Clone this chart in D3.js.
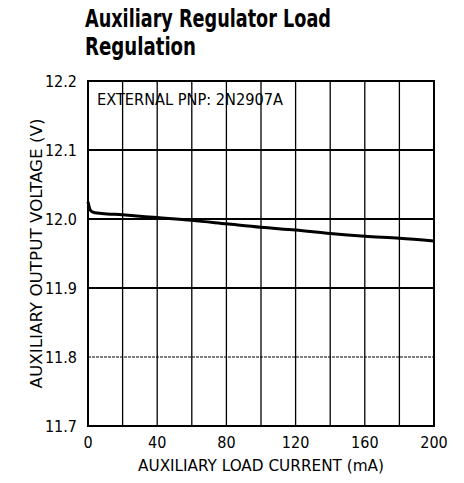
<!DOCTYPE html>
<html>
<head>
<meta charset="utf-8">
<script src="https://cdn.jsdelivr.net/npm/d3@7"></script>
<style>
  body { margin: 0; background: #fff; }
  text { font-family: "DejaVu Sans Condensed", "Liberation Sans", sans-serif; fill: #000; }
</style>
</head>
<body>
<div id="chart"></div>
<script>
// Chart data
const currentMA = [0, 1, 2, 4, 8, 20, 40, 60, 80, 100, 120, 140, 160, 180, 200];
const outputV = [12.025, 12.015, 12.011, 12.009, 12.008, 12.006, 12.002, 11.998, 11.993, 11.988, 11.984, 11.979, 11.975, 11.972, 11.968];
const xTicks = [0, 40, 80, 120, 160, 200];
const xGrid = [20, 40, 60, 80, 100, 120, 140, 160, 180];
const yTicks = [11.7, 11.8, 11.9, 12.0, 12.1, 12.2];

const width = 464;
const height = 483;
const margin = { top: 81, right: 30, bottom: 57, left: 88 };

const svg = d3.select("#chart")
    .append("svg")
    .attr("width", width)
    .attr("height", height);

const x = d3.scaleLinear().domain([0, 200]).range([margin.left, width - margin.right]);
const y = d3.scaleLinear().domain([11.7, 12.2]).range([height - margin.bottom, margin.top]);

// Title (condensed to the width of the original narrow face)
svg.append("text")
    .attr("x", 85).attr("y", 27)
    .attr("font-size", 24)
    .attr("font-weight", "bold")
    .attr("textLength", 246).attr("lengthAdjust", "spacingAndGlyphs")
    .text("Auxiliary Regulator Load");
svg.append("text")
    .attr("x", 85).attr("y", 55)
    .attr("font-size", 24)
    .attr("font-weight", "bold")
    .attr("textLength", 111).attr("lengthAdjust", "spacingAndGlyphs")
    .text("Regulation");

// Grid lines
svg.append("g")
    .selectAll("line")
    .data(xGrid)
    .join("line")
    .attr("x1", d => x(d)).attr("x2", d => x(d))
    .attr("y1", y(12.2)).attr("y2", y(11.7))
    .attr("stroke", "#000")
    .attr("stroke-width", 1.3);

svg.append("g")
    .selectAll("line")
    .data(yTicks.slice(1, -1))
    .join("line")
    .attr("x1", x(0)).attr("x2", x(200))
    .attr("y1", d => y(d)).attr("y2", d => y(d))
    .attr("stroke", "#000")
    .attr("stroke-width", d => d === 11.8 ? 1 : 2)
    .attr("stroke-dasharray", d => d === 11.8 ? "3,1" : null);

// Frame
svg.append("rect")
    .attr("x", x(0)).attr("y", y(12.2))
    .attr("width", x(200) - x(0))
    .attr("height", y(11.7) - y(12.2))
    .attr("fill", "none")
    .attr("stroke", "#000")
    .attr("stroke-width", 2);

// Axes labels
svg.append("g")
    .selectAll("text")
    .data(yTicks)
    .join("text")
    .attr("x", 77)
    .attr("y", d => y(d) + 6)
    .attr("text-anchor", "end")
    .attr("font-size", 16)
    .text(d => d.toFixed(1));

svg.append("g")
    .selectAll("text")
    .data(xTicks)
    .join("text")
    .attr("x", d => x(d))
    .attr("y", 448)
    .attr("text-anchor", "middle")
    .attr("font-size", 16)
    .text(d => d);

svg.append("text")
    .attr("x", (x(0) + x(200)) / 2)
    .attr("y", 471)
    .attr("text-anchor", "middle")
    .attr("font-size", 16)
    .attr("textLength", 246).attr("lengthAdjust", "spacingAndGlyphs")
    .text("AUXILIARY LOAD CURRENT (mA)");

svg.append("text")
    .attr("transform", `translate(42,${(y(11.7) + y(12.2)) / 2}) rotate(-90)`)
    .attr("text-anchor", "middle")
    .attr("font-size", 16)
    .attr("textLength", 270).attr("lengthAdjust", "spacingAndGlyphs")
    .text("AUXILIARY OUTPUT VOLTAGE (V)");

svg.append("text")
    .attr("x", 97)
    .attr("y", 105)
    .attr("font-size", 16)
    .attr("textLength", 186).attr("lengthAdjust", "spacingAndGlyphs")
    .text("EXTERNAL PNP: 2N2907A");

// Curve
const line = d3.line()
    .x((d, i) => x(currentMA[i]))
    .y(d => y(d))
    .curve(d3.curveMonotoneX);

svg.append("path")
    .datum(outputV)
    .attr("d", line)
    .attr("fill", "none")
    .attr("stroke", "#000")
    .attr("stroke-width", 3);
</script>
</body>
</html>
